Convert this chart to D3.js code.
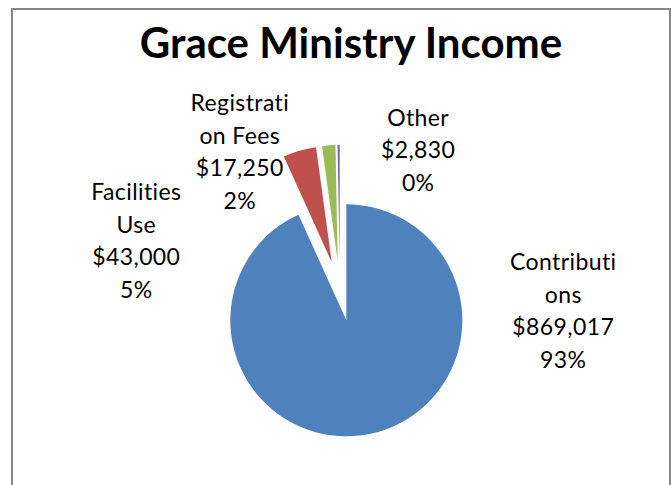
<!DOCTYPE html>
<meta charset="utf-8">
<style>
  body { margin: 0; background: #fff; }
  text { font-family: Lato, "Open Sans", sans-serif; fill: #000; font-variant-ligatures: none; }
</style>
<svg width="671" height="485"></svg>
<script src="https://d3js.org/d3.v7.min.js"></script>
<script>

// data
var categories = ["Contributions", "Facilities Use", "Registration Fees", "Other"],
    amounts = [869017, 43000, 17250, 2830],
    // Excel wrapped the category names mid-word
    nameLines = [["Contributi", "ons"], ["Facilities", "Use"], ["Registrati", "on Fees"], ["Other"]],
    colors = ["#4f81bd", "#c0504d", "#9bbb59", "#8064a2"];

// label placement, polar around the pie centre (angle in degrees clockwise from 12 o'clock)
var labelAngle = [97.2, -78.3, -37.4, 30.5],
    labelDist = [225, 208, 165, 154];

var svg = d3.select("svg"),
    width = +svg.attr("width"),
    height = +svg.attr("height");

var cx = 340, cy = 291,
    radius = 116,
    explode = 30,
    lineHeight = 32.5;

var total = d3.sum(amounts),
    money = d3.format("$,"),
    pct = d3.format(".0%");

var rows = categories.map(function(c, i) {
  return {name: c, value: amounts[i], lines: nameLines[i], color: colors[i], i: i};
});

// chart border
svg.append("path")
    .attr("d", "M12," + (height + 2) + "V9H670V" + (height + 2))
    .attr("fill", "none")
    .attr("stroke", "#878787")
    .attr("stroke-width", 2);

svg.append("text")
    .attr("x", 351)
    .attr("y", 58)
    .attr("text-anchor", "middle")
    .style("font-size", "42px")
    .style("font-weight", "bold")
    .text("Grace Ministry Income");

var pie = d3.pie()
    .sort(null)
    .value(function(d) { return d.value; });

var arc = d3.arc()
    .innerRadius(0)
    .outerRadius(radius);

var arcs = pie(rows);

var g = svg.append("g")
    .attr("transform", "translate(" + cx + "," + cy + ")");

g.selectAll("path.slice")
  .data(arcs)
  .enter().append("path")
    .attr("class", "slice")
    .attr("transform", function(d) {
      var a = (d.startAngle + d.endAngle) / 2;
      return "translate(" + (Math.sin(a) * explode) + "," + (-Math.cos(a) * explode) + ")";
    })
    .attr("fill", function(d) { return d.data.color; })
    .attr("d", arc);

var labels = g.selectAll("text.label")
  .data(arcs)
  .enter().append("text")
    .attr("class", "label")
    .attr("text-anchor", "middle")
    .style("font-size", "23px")
    .style("letter-spacing", "0.4px")
    .attr("transform", function(d) {
      var a = labelAngle[d.data.i] * Math.PI / 180,
          r = labelDist[d.data.i];
      return "translate(" + (Math.sin(a) * r) + "," + (-Math.cos(a) * r) + ")";
    });

labels.each(function(d) {
  var lines = d.data.lines.concat([money(d.data.value), pct(d.data.value / total)]),
      n = lines.length,
      t = d3.select(this);
  lines.forEach(function(s, k) {
    t.append("tspan")
        .attr("x", 0)
        .attr("y", (k - (n - 1) / 2) * lineHeight)
        .text(s);
  });
});

</script>
